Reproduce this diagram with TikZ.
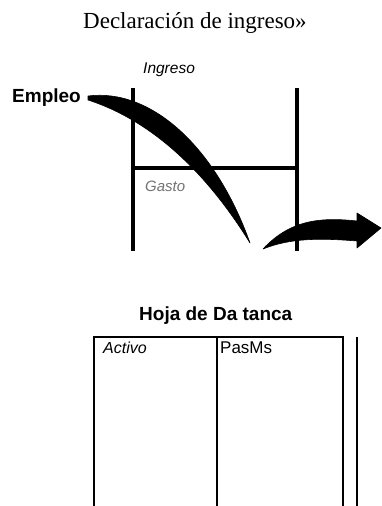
\documentclass[tikz,border=0pt]{standalone}
\usepackage{fontspec}
\setmainfont{Liberation Serif}
\newfontfamily\arial{Liberation Sans}
\usetikzlibrary{positioning}

\begin{document}
\begin{tikzpicture}[
                x=1pt, y=-1pt,
                txt/.style={inner sep=0pt, anchor=base west},
                hd/.style={txt, font=\arial\bfseries\fontsize{19}{21}\selectfont},
                cell/.style={txt, font=\arial\fontsize{16}{18}\selectfont},
                frame/.style={line width=3.5pt},
                sheet/.style={line width=2.7pt},
                brush/.style={fill=black, draw=black, line width=0.6pt, line join=round},
            ]
            \useasboundingbox[fill=white] (0,0) rectangle (382,506);

            % statement of income
            \node[txt, font=\fontsize{23}{26}\selectfont] (title) at (83,28) {Declaración de ingreso»};
            \node[txt, font=\arial\itshape\fontsize{15.5}{18}\selectfont] (ingreso) at (143,73) {Ingreso};
            \node[hd] (empleo) at (12,102) {Empleo};
            \node[txt, font=\arial\itshape\fontsize{15}{17}\selectfont, text=black!55] (gasto) at (145,191) {Gasto};

            \coordinate (tl) at (133,88);
            \coordinate (tr) at (297,88);
            \coordinate (ml) at (133,168);
            \coordinate (mr) at (297,168);
            \draw[frame] (tl) -- (133,251);
            \draw[frame] (tr) -- (297,251);
            \draw[frame] (ml) -- (mr);

            % flow of money
            \fill[brush] (88,96) .. controls (150,88) and (215,145) .. (250,243)
                .. controls (205,170) and (150,120) .. (88,100) -- cycle;
            \fill[brush] (263,249) .. controls (290,238) and (320,238) .. (357,241)
                -- (357,248) -- (381,228) -- (357,213) -- (357,221)
                .. controls (320,217) and (290,220) .. cycle;

            % balance sheet
            \node[hd] (hoja) at (139,320) {Hoja de Da tanca};
            \node[cell, font=\arial\itshape\fontsize{16}{18}\selectfont] (activo) at (103,353) {Activo};
            \node[cell, font=\arial\fontsize{17}{19}\selectfont] (pasivo) at (220,353) {PasMs};

            \draw[sheet] (94,506) -- (94,337) -- (343,337) -- (343,506);
            \draw[sheet] (217,337) -- (217,506);
            \draw[sheet] (357,337) -- (357,506);
        \end{tikzpicture}
\end{document}
